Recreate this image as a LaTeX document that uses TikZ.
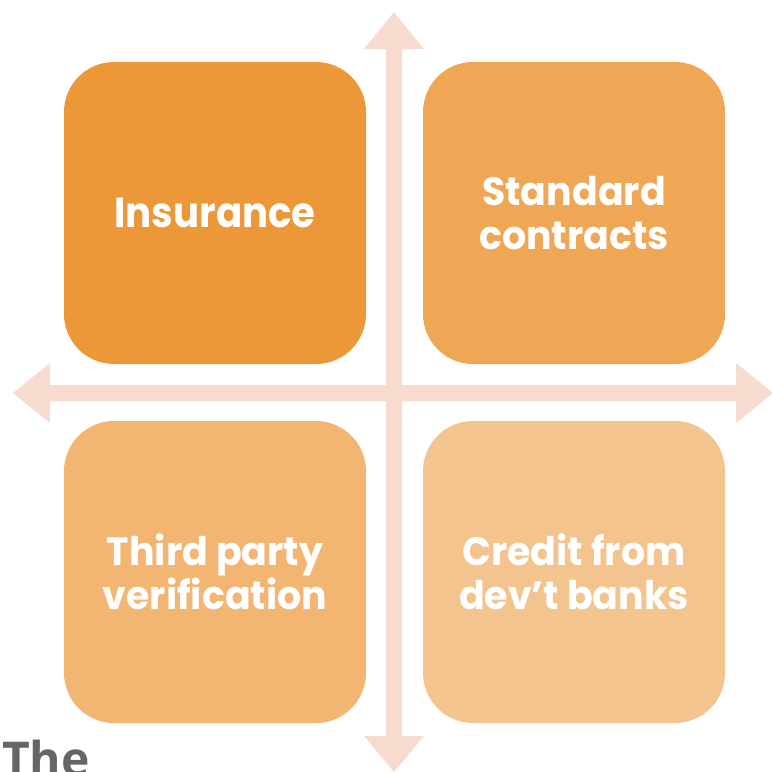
\documentclass[tikz,border=0pt]{standalone}
\usepackage{fontspec}
\newfontfamily\boxfont{Poppins}[FakeStretch=0.96]
\newfontfamily\boxfontn{Poppins}[FakeStretch=0.92]
\newfontfamily\thefont{Open Sans}
\definecolor{cA}{HTML}{ED9838}
\definecolor{cB}{HTML}{F0A755}
\definecolor{cC}{HTML}{F2B572}
\definecolor{cD}{HTML}{F4C48F}
\definecolor{axis}{HTML}{F7DBCF}
\definecolor{thegray}{HTML}{666666}
\tikzset{
  quad/.style={rounded corners=50pt, minimum width=302pt, minimum height=302pt, inner sep=0pt, draw=none, text=white, align=center},
  bigtxt/.style={font=\boxfontn\bfseries\fontsize{42}{48}\selectfont},
  smalltxt/.style={font=\boxfont\bfseries\fontsize{39.5}{44.5}\selectfont},
  axisfill/.style={fill=axis, draw=none}
}
\begin{document}
\begin{tikzpicture}[x=1pt,y=-1pt]
\useasboundingbox (0,0) rectangle (772,772);
% axes
\fill[axisfill] (394,12) -- (424,49) -- (402,49) -- (402,736) -- (424,736) -- (394,772) -- (364,736) -- (386,736) -- (386,49) -- (364,49) -- cycle;
\fill[axisfill] (13,393) -- (50,363) -- (50,385) -- (736,385) -- (736,363) -- (773,393) -- (736,423) -- (736,401) -- (50,401) -- (50,423) -- cycle;
% boxes
\node[quad, fill=cA, bigtxt] (ins) at (215,213) {Insurance};
\node[quad, fill=cB, smalltxt] (std) at (574,213) {Standard\\contracts};
\node[quad, fill=cC, smalltxt] (tpv) at (215,572) {Third party\\verification};
\node[quad, fill=cD, smalltxt] (cdb) at (574,572) {Credit from\\dev’t banks};
% partial title
\node[anchor=base west, inner sep=0pt, text=thegray, font=\thefont\bfseries\fontsize{48}{50}\selectfont] (the) at (2,776) {The};
\end{tikzpicture}
\end{document}
